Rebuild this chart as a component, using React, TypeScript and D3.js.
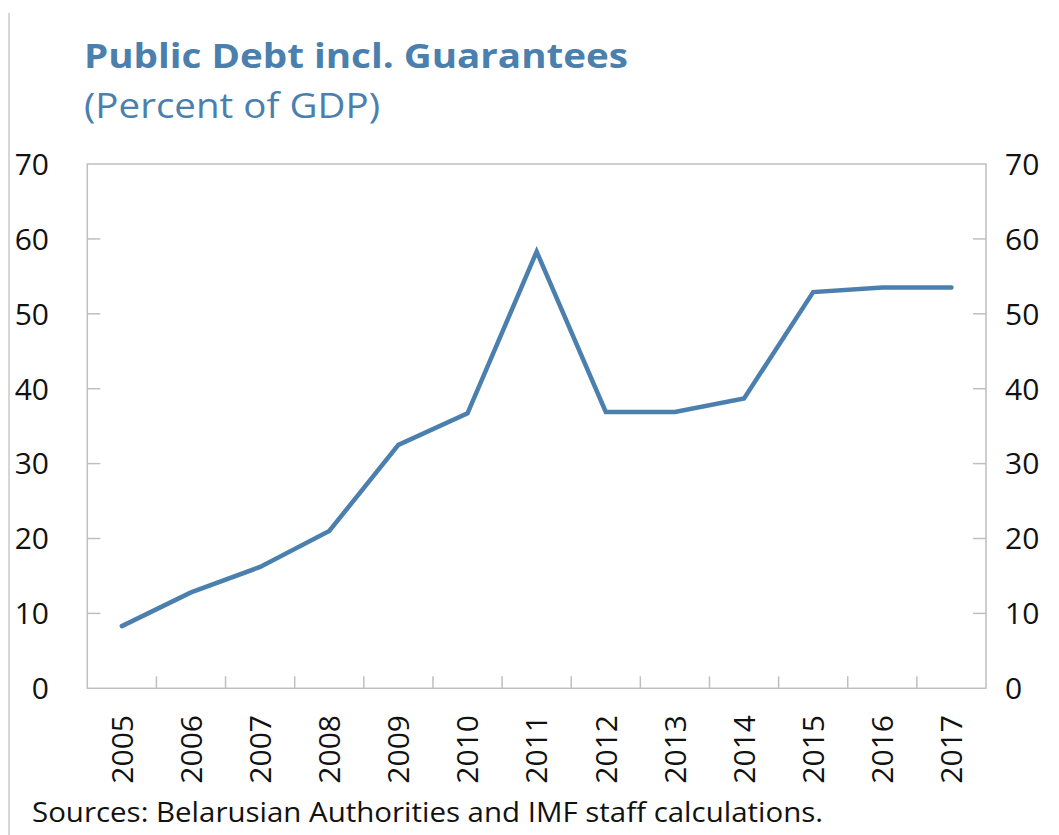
import React from "react";
import * as d3 from "d3";

const years = ["2005","2006","2007","2008","2009","2010","2011","2012","2013","2014","2015","2016","2017"];
const debt = [8.3, 12.8, 16.2, 21.0, 32.5, 36.7, 58.3, 36.9, 36.9, 38.7, 52.9, 53.5, 53.5];
const yTicks = [0, 10, 20, 30, 40, 50, 60, 70];
const titleText = "Public Debt incl. Guarantees";
const subtitleText = "(Percent of GDP)";
const sourceText = "Sources: Belarusian Authorities and IMF staff calculations.";

const W = 1059, H = 835;
const left = 87.3, right = 986, top = 164, bottom = 688.3;
const blue = "#4a7fae";
const axisGray = "#bfbfbf";
const font = "'Open Sans', 'Noto Sans', sans-serif";

export default function App() {
  const x = d3.scaleBand<string>().domain(years).range([left, right]).padding(0);
  const y = d3.scaleLinear().domain([0, 70]).range([bottom, top]);
  const line = d3.line<number>()
    .x((_, i) => (x(years[i]) as number) + x.bandwidth() / 2)
    .y(d => y(d));
  const boundaries = years.slice(1).map(yr => x(yr) as number);

  return (
    <svg width={W} height={H} style={{ position: "absolute", left: 0, top: 0, background: "#fff" }}
      fontFamily={font}>
      <line x1={9} x2={9} y1={13} y2={H} stroke="#c8c8c8" strokeWidth={1.5} />
      <text x={84} y={68} fill={blue} fontSize={34} fontWeight={700} textLength={544} lengthAdjust="spacingAndGlyphs">{titleText}</text>
      <text x={84} y={118} fill={blue} fontSize={34} textLength={296} lengthAdjust="spacingAndGlyphs">{subtitleText}</text>

      {/* frame */}
      <rect x={left} y={top} width={right - left} height={bottom - top} fill="none" stroke={axisGray} strokeWidth={1.5} />

      {/* y ticks */}
      {yTicks.map(t => (
        <g key={t}>
          {t > 0 && t < 70 && (
            <>
              <line x1={left} x2={left + 13} y1={y(t)} y2={y(t)} stroke={axisGray} strokeWidth={1.5} />
              <line x1={right - 13} x2={right} y1={y(t)} y2={y(t)} stroke={axisGray} strokeWidth={1.5} />
            </>
          )}
          <text x={49} y={y(t)} dy="0.36em" textAnchor="end" fontSize={30} fill="#111">{t}</text>
          <text x={1005} y={y(t)} dy="0.36em" textAnchor="start" fontSize={30} fill="#111">{t}</text>
        </g>
      ))}

      {/* x ticks */}
      {boundaries.map((bx, i) => (
        <line key={i} x1={bx} x2={bx} y1={bottom} y2={bottom - 12} stroke={axisGray} strokeWidth={1.5} />
      ))}
      {years.map(yr => {
        const cx = (x(yr) as number) + x.bandwidth() / 2;
        return (
          <text key={yr} transform={`translate(${cx},715) rotate(-90)`} textAnchor="end" dy="0.36em"
            fontSize={30} fill="#111">{yr}</text>
        );
      })}

      <path d={line(debt) || ""} fill="none" stroke={blue} strokeWidth={4.5} strokeLinejoin="miter" strokeLinecap="round" />

      <text x={32} y={822} fontSize={28} fill="#111" textLength={791} lengthAdjust="spacingAndGlyphs">{sourceText}</text>
    </svg>
  );
}
